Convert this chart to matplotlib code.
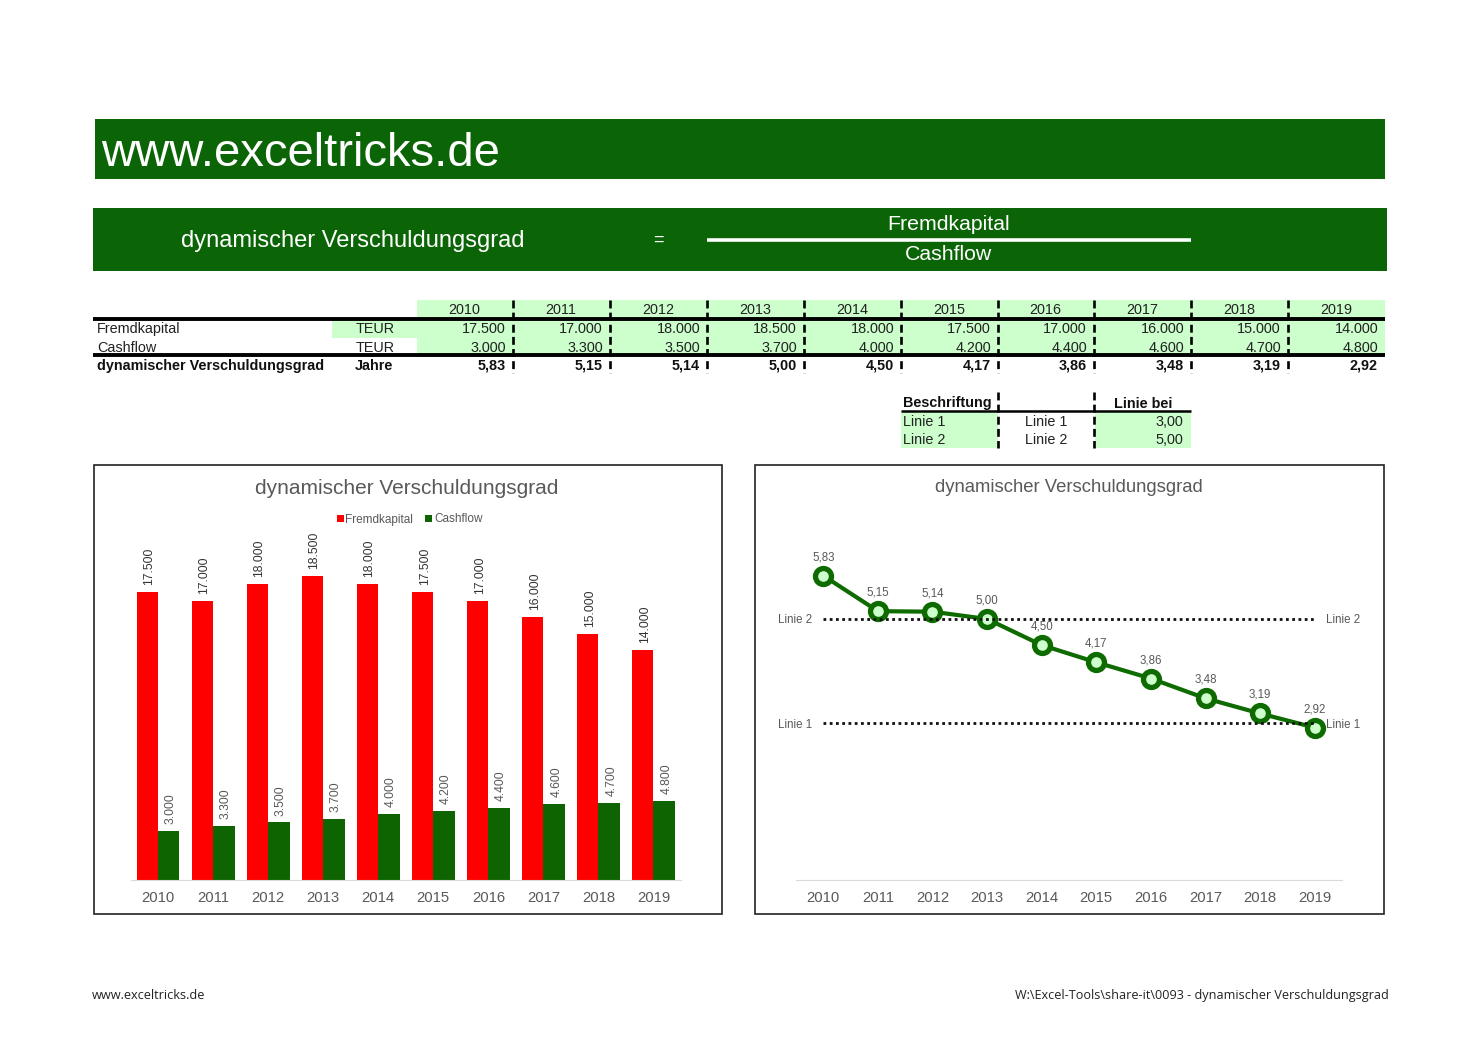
import matplotlib
matplotlib.use('Agg')
import matplotlib.pyplot as plt
from matplotlib.patches import Rectangle

plt.rcParams['font.family'] = ['Liberation Sans', 'DejaVu Sans']

W, H = 1480, 1046

years = [2010, 2011, 2012, 2013, 2014, 2015, 2016, 2017, 2018, 2019]
fremdkapital = [17500, 17000, 18000, 18500, 18000, 17500, 17000, 16000, 15000, 14000]
cashflow = [3000, 3300, 3500, 3700, 4000, 4200, 4400, 4600, 4700, 4800]
grad = [5.83, 5.15, 5.14, 5.00, 4.50, 4.17, 3.86, 3.48, 3.19, 2.92]
linie_namen = ["Linie 1", "Linie 2"]
linie_werte = [3.00, 5.00]

dark_green = "#0d6400"
header_green = "#0b6506"
light_green = "#ccffcc"
chart_green = "#0e6b00"
grey_text = "#595959"
table_fs = 10.4


def de_int(v):
    return "{:,}".format(v).replace(",", ".")


def de_dec(v):
    return "{:.2f}".format(v).replace(".", ",")


def px_axes(x0, y0, x1, y1):
    # pixel box (y downwards) to a figure axes
    return fig.add_axes([x0 / W, 1 - y1 / H, (x1 - x0) / W, (y1 - y0) / H])


def box(x0, y0, x1, y1, color):
    bg.add_patch(Rectangle((x0, y0), x1 - x0, y1 - y0, fc=color, ec='none'))


def hline(x0, x1, y, lw, color='black', **kw):
    bg.plot([x0, x1], [y, y], color=color, lw=lw, solid_capstyle='butt', **kw)


def sep(x, y0, y1):
    bg.plot([x, x], [y0, y1], color='black', lw=1.9, ls=(0, (3, 1.6)))


fig = plt.figure(figsize=(W / 100, H / 100), dpi=100, facecolor='white')

# page layer in pixel coordinates
bg = fig.add_axes([0, 0, 1, 1])
bg.set_xlim(0, W)
bg.set_ylim(H, 0)
bg.axis('off')

# banners
box(95, 119, 1385, 179, header_green)
bg.text(101, 154, "www.exceltricks.de", color='white', fontsize=34, va='center')
box(93, 208, 1387, 271, header_green)
bg.text(181, 241, "dynamischer Verschuldungsgrad", color='white', fontsize=17, va='center')
bg.text(658, 240, "=", color='white', fontsize=13, va='center', ha='center')
bg.text(949, 225, "Fremdkapital", color='white', fontsize=15.3, va='center', ha='center')
bg.text(949, 255, "Cashflow", color='white', fontsize=15.3, va='center', ha='center')
hline(707, 1191, 239.5, 2.6, color='white')

# table
col_right = [513, 610, 707, 804, 901, 998, 1094, 1191, 1288, 1385]
box(417, 300, 1385, 355, light_green)
box(332, 319, 417, 338, light_green)
for i, y in enumerate(years):
    left = col_right[i - 1] if i else 417
    bg.text((left + col_right[i]) / 2 - 0.5, 310.5, str(y), fontsize=table_fs, ha='center', va='center', color='#222222')
    bg.text(col_right[i] - 7, 329, de_int(fremdkapital[i]), fontsize=table_fs, ha='right', va='center', color='#222222')
    bg.text(col_right[i] - 7, 347.5, de_int(cashflow[i]), fontsize=table_fs, ha='right', va='center', color='#222222')
    bg.text(col_right[i] - 7, 366, de_dec(grad[i]), fontsize=table_fs, ha='right', va='center', fontweight='bold', color='#111111')
for x in col_right[:-1]:
    sep(x, 300, 373)
hline(93, 1385, 318.5, 2.8)
hline(93, 1385, 355, 2.8)
bg.text(97, 329, "Fremdkapital", fontsize=table_fs, va='center', color='#222222')
bg.text(97, 347.5, "Cashflow", fontsize=table_fs, va='center', color='#222222')
bg.text(97, 366, "dynamischer Verschuldungsgrad", fontsize=table_fs, va='center', fontweight='bold', color='#111111')
bg.text(375, 329, "TEUR", fontsize=table_fs, va='center', ha='center', color='#222222')
bg.text(375, 347.5, "TEUR", fontsize=table_fs, va='center', ha='center', color='#222222')
bg.text(374, 366, "Jahre", fontsize=table_fs, va='center', ha='center', fontweight='bold', color='#111111')

# small line table
box(901, 411, 998, 448, light_green)
box(1095, 411, 1191, 448, light_green)
sep(998, 392, 448)
sep(1094, 392, 448)
hline(901, 1191, 411, 1.8)
bg.text(903, 403.5, "Beschriftung", fontsize=table_fs, va='center', fontweight='bold', color='#111111')
bg.text(1143, 403.5, "Linie bei", fontsize=table_fs, va='center', ha='center', fontweight='bold', color='#111111')
for name, val, y in zip(linie_namen, linie_werte, [421.5, 440.5]):
    bg.text(903, y, name, fontsize=table_fs, va='center', color='#222222')
    bg.text(1046, y, name, fontsize=table_fs, va='center', ha='center', color='#222222')
    bg.text(1183, y, de_dec(val), fontsize=table_fs, va='center', ha='right', color='#222222')

# chart frames
for x0, x1 in [(93.5, 722), (755, 1384)]:
    bg.add_patch(Rectangle((x0, 464.5), x1 - x0, 449, fc='white', ec='#222222', lw=1.2))

# footer
bg.text(92, 995.5, "www.exceltricks.de", fontsize=9.2, va='center', family=['Open Sans', 'DejaVu Sans'], color='#222222')
bg.text(1389, 995.5, "W:\\Excel-Tools\\share-it\\0093 - dynamischer Verschuldungsgrad", fontsize=9.1, va='center',
        ha='right', family=['Open Sans', 'DejaVu Sans'], color='#222222')

# bar chart
ax1 = px_axes(130.5, 530, 681, 880)
ax1.patch.set_alpha(0)
pos = list(range(len(years)))
w = 0.39
ax1.bar([p - w / 2 for p in pos], fremdkapital, w, color='#ff0000', label='Fremdkapital')
ax1.bar([p + w / 2 for p in pos], cashflow, w, color=dark_green, label='Cashflow')
ax1.set_xlim(-0.5, 9.5)
ax1.set_ylim(0, 18500 * 350 / 304)
ax1.set_xticks(pos)
ax1.set_xticklabels(years, fontsize=10.7, color=grey_text)
ax1.set_yticks([])
ax1.tick_params(axis='x', length=0, pad=8)
for s in ['top', 'left', 'right']:
    ax1.spines[s].set_visible(False)
ax1.spines['bottom'].set_color('#d9d9d9')
for p, a, b in zip(pos, fremdkapital, cashflow):
    ax1.annotate(de_int(a), (p - w / 2, a), xytext=(1.5, 5), textcoords='offset points', rotation=90,
                 ha='center', va='bottom', fontsize=8.7, color='#333333')
    ax1.annotate(de_int(b), (p + w / 2, b), xytext=(1.5, 5), textcoords='offset points', rotation=90,
                 ha='center', va='bottom', fontsize=8.7, color=grey_text)
bg.text(407, 489, "dynamischer Verschuldungsgrad", fontsize=15, ha='center', va='center', color=grey_text)
box(337, 515, 344, 522, '#ff0000')
bg.text(345, 519.5, "Fremdkapital", fontsize=8.5, va='center', color=grey_text)
box(425, 515, 432, 522, dark_green)
bg.text(434, 519.5, "Cashflow", fontsize=8.5, va='center', color=grey_text)

# line chart
ax2 = px_axes(796, 540.7, 1342, 880)
ax2.patch.set_alpha(0)
ax2.set_xlim(-0.5, 9.5)
ax2.set_ylim(0, 6.5)
for name, val in zip(linie_namen, linie_werte):
    ax2.plot(pos, [val] * len(pos), color='#111111', lw=2, ls=(0, (1, 1.25)), zorder=3)
    ax2.annotate(name, (0, val), xytext=(-8, -1), textcoords='offset points', ha='right', va='center',
                 fontsize=8.3, color=grey_text)
    ax2.annotate(name, (9, val), xytext=(8, -1), textcoords='offset points', ha='left', va='center',
                 fontsize=8.3, color=grey_text)
ax2.plot(pos, grad, color=chart_green, lw=3, marker='o', ms=11.5, mfc=light_green, mec=chart_green,
         mew=3.8, zorder=2)
for p, v in zip(pos, grad):
    ax2.annotate(de_dec(v), (p, v), xytext=(0, 9), textcoords='offset points', ha='center', va='bottom',
                 fontsize=8.3, color=grey_text)
ax2.set_xticks(pos)
ax2.set_xticklabels(years, fontsize=10.7, color=grey_text)
ax2.set_yticks([])
ax2.tick_params(axis='x', length=0, pad=8)
for s in ['top', 'left', 'right']:
    ax2.spines[s].set_visible(False)
ax2.spines['bottom'].set_color('#d9d9d9')
bg.text(1069, 487, "dynamischer Verschuldungsgrad", fontsize=13.3, ha='center', va='center', color=grey_text)

fig.savefig('out.png', dpi=100)
